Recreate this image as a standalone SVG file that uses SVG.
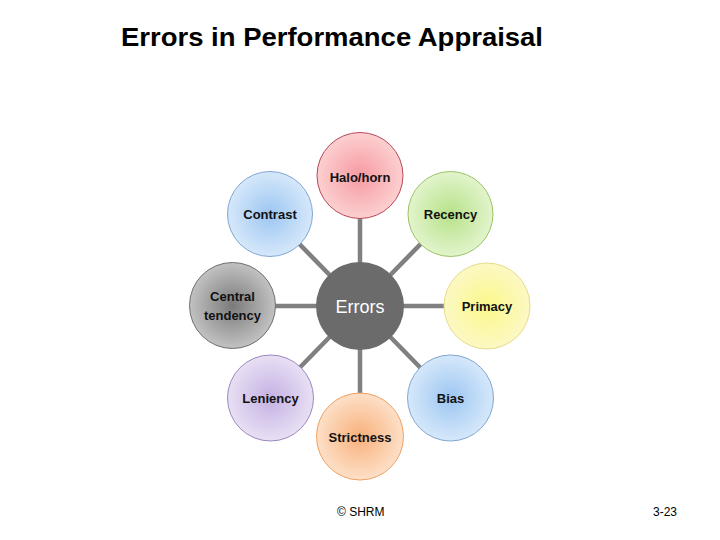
<svg xmlns="http://www.w3.org/2000/svg" width="720" height="540" viewBox="0 0 720 540">
<style>
.lbl{font-family:"Liberation Sans",Arial,sans-serif;font-size:13px;font-weight:bold;fill:#111;text-anchor:middle}
.conn{stroke:#808080;stroke-width:4.5;fill:none}
.title{font-family:"Liberation Sans",Arial,sans-serif;font-size:26px;font-weight:bold;fill:#000}
.foot{font-family:"Liberation Sans",Arial,sans-serif;font-size:12px;fill:#000}
</style>
<defs>
<radialGradient id="gRed"><stop offset="0" stop-color="#f69aa2"/><stop offset="1" stop-color="#fcd0d0"/></radialGradient>
<radialGradient id="gBlue"><stop offset="0" stop-color="#9cc6f2"/><stop offset="1" stop-color="#d6e8fa"/></radialGradient>
<radialGradient id="gGreen"><stop offset="0" stop-color="#b6e288"/><stop offset="1" stop-color="#e2f4cc"/></radialGradient>
<radialGradient id="gGray"><stop offset="0" stop-color="#7a7a7a"/><stop offset="1" stop-color="#c2c2c2"/></radialGradient>
<radialGradient id="gYellow"><stop offset="0" stop-color="#fbf88a"/><stop offset="1" stop-color="#fcf8c4"/></radialGradient>
<radialGradient id="gPurple"><stop offset="0" stop-color="#c4b0e2"/><stop offset="1" stop-color="#e8e0f4"/></radialGradient>
<radialGradient id="gOrange"><stop offset="0" stop-color="#f8b07a"/><stop offset="1" stop-color="#fde0c8"/></radialGradient>
</defs>
<rect width="720" height="540" fill="#ffffff"/>
<text class="title" x="121" y="46" textLength="422" lengthAdjust="spacingAndGlyphs">Errors in Performance Appraisal</text>
<g id="connectors">
<line class="conn" x1="360" y1="306" x2="360" y2="175"/>
<line class="conn" x1="360" y1="306" x2="270" y2="214"/>
<line class="conn" x1="360" y1="306" x2="450" y2="214"/>
<line class="conn" x1="360" y1="306" x2="232" y2="306"/>
<line class="conn" x1="360" y1="306" x2="487" y2="306"/>
<line class="conn" x1="360" y1="306" x2="270" y2="398"/>
<line class="conn" x1="360" y1="306" x2="450" y2="398"/>
<line class="conn" x1="360" y1="306" x2="360" y2="437"/>
</g>
<g id="halo">
<circle cx="360" cy="175.5" r="43" fill="url(#gRed)" stroke="#b8485a" stroke-width="1"/>
<text class="lbl" x="360" y="181.5">Halo/horn</text>
</g>
<g id="contrast">
<circle cx="270" cy="214" r="42.5" fill="url(#gBlue)" stroke="#7fa6d4" stroke-width="1"/>
<text class="lbl" x="270" y="218.5">Contrast</text>
</g>
<g id="recency">
<circle cx="450.5" cy="214" r="42.5" fill="url(#gGreen)" stroke="#9cc266" stroke-width="1"/>
<text class="lbl" x="450.5" y="218.5">Recency</text>
</g>
<g id="central">
<circle cx="232.5" cy="305.5" r="43" fill="url(#gGray)" stroke="#6e6e6e" stroke-width="1"/>
<text class="lbl" x="232.5" y="301">Central</text>
<text class="lbl" x="232.5" y="320">tendency</text>
</g>
<g id="errors">
<circle cx="360" cy="306" r="44" fill="#6b6b6b"/>
<text x="360" y="312.5" font-family="'Liberation Sans',Arial,sans-serif" font-size="18" fill="#ffffff" text-anchor="middle">Errors</text>
</g>
<g id="primacy">
<circle cx="487" cy="306" r="43" fill="url(#gYellow)" stroke="#e6dc8a" stroke-width="1"/>
<text class="lbl" x="487" y="310.5">Primacy</text>
</g>
<g id="leniency">
<circle cx="270.5" cy="398" r="43" fill="url(#gPurple)" stroke="#9b86c0" stroke-width="1"/>
<text class="lbl" x="270.5" y="402.5">Leniency</text>
</g>
<g id="bias">
<circle cx="450.5" cy="398" r="43" fill="url(#gBlue)" stroke="#7fa6d4" stroke-width="1"/>
<text class="lbl" x="450.5" y="402.5">Bias</text>
</g>
<g id="strictness">
<circle cx="360" cy="436.5" r="43.5" fill="url(#gOrange)" stroke="#eea060" stroke-width="1"/>
<text class="lbl" x="360" y="441.5">Strictness</text>
</g>
<text class="foot" x="337" y="516">© SHRM</text>
<text class="foot" x="653" y="516">3-23</text>
</svg>
